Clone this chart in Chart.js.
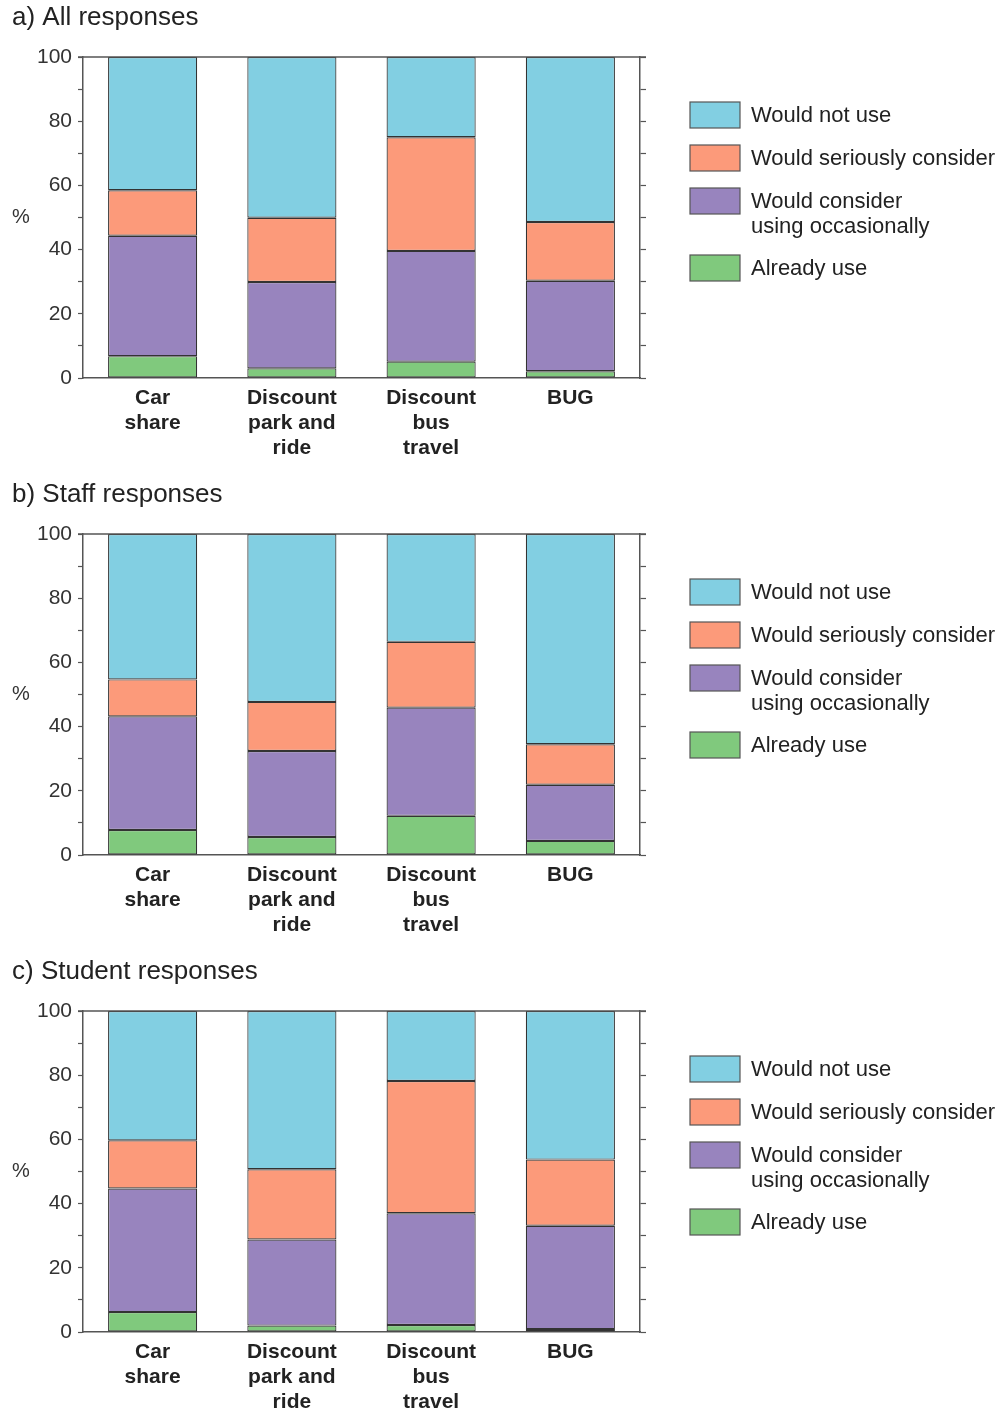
<!DOCTYPE html>
<html>
<head>
<meta charset="utf-8">
<script src="https://cdn.jsdelivr.net/npm/chart.js@4.4.1/dist/chart.umd.min.js"></script>
<style>
  html, body { margin: 0; padding: 0; background: #fff; overflow: hidden; }
  .panel { display: block; }
</style>
</head>
<body>
<canvas id="chartA" class="panel" width="1000" height="477"></canvas>
<canvas id="chartB" class="panel" width="1000" height="477"></canvas>
<canvas id="chartC" class="panel" width="1000" height="477"></canvas>
<script>
const categories = [['Car', 'share'], ['Discount', 'park and', 'ride'], ['Discount', 'bus', 'travel'], ['BUG']];
const panelTitles = ['a) All responses', 'b) Staff responses', 'c) Student responses'];
const seriesNames = ['Already use', 'Would consider using occasionally', 'Would seriously consider', 'Would not use'];
const legendLines = [['Already use'], ['Would consider', 'using occasionally'], ['Would seriously consider'], ['Would not use']];
const seriesColors = ['#80c97d', '#9884be', '#fc9a7a', '#82cfe2'];
const yTicks = [0, 20, 40, 60, 80, 100];

// a) all responses, % per category (bottom to top)
const allAlready = [6.8, 3.0, 5.1, 2.1];
const allOccasional = [37.5, 26.9, 34.5, 28.2];
const allSerious = [14.2, 20.0, 35.4, 18.3];
const allNotUse = [41.5, 50.1, 25.0, 51.4];

// b) staff
const staffAlready = [7.8, 5.6, 12.2, 4.4];
const staffOccasional = [35.4, 26.8, 33.7, 17.5];
const staffSerious = [11.5, 15.3, 20.5, 12.6];
const staffNotUse = [45.3, 52.3, 33.6, 65.5];

// c) students
const studentAlready = [6.2, 2.0, 2.2, 0.9];
const studentOccasional = [38.5, 26.8, 34.8, 32.2];
const studentSerious = [15.0, 21.9, 41.2, 20.6];
const studentNotUse = [40.3, 49.3, 21.8, 46.3];

Chart.defaults.font.family = 'Arial, "Liberation Sans", sans-serif';
Chart.defaults.color = '#333';

const axisColor = '#555';

// title, "%" label, top frame line and the legend box
const decorations = {
    id: 'decorations',
    afterDraw(chart, args, opts) {
        const ctx = chart.ctx;
        const area = chart.chartArea;
        ctx.save();

        ctx.fillStyle = '#222';
        ctx.textAlign = 'left';
        ctx.textBaseline = 'middle';
        ctx.font = '26px Arial, "Liberation Sans", sans-serif';
        ctx.fillText(opts.title, 12, 18);

        ctx.font = '20px Arial, "Liberation Sans", sans-serif';
        ctx.fillStyle = '#333';
        ctx.textAlign = 'center';
        ctx.fillText('%', 21, (area.top + area.bottom) / 2);

        ctx.strokeStyle = axisColor;
        ctx.lineWidth = 1.5;
        ctx.beginPath();
        ctx.moveTo(area.left - 5, area.top);
        ctx.lineTo(area.right + 6, area.top);
        ctx.stroke();

        // legend, top of the stack first
        const boxTops = [102, 145, 188, 255];
        const order = [3, 2, 1, 0];
        ctx.font = '22px Arial, "Liberation Sans", sans-serif';
        ctx.textAlign = 'left';
        order.forEach((di, i) => {
            const ds = chart.data.datasets[di];
            const top = boxTops[i];
            ctx.fillStyle = ds.backgroundColor;
            ctx.fillRect(690, top, 50, 26);
            ctx.strokeStyle = '#555';
            ctx.lineWidth = 1.2;
            ctx.strokeRect(690, top, 50, 26);
            ctx.fillStyle = '#222';
            legendLines[di].forEach((line, k) => {
                ctx.fillText(line, 751, top + 14 + k * 25);
            });
        });

        ctx.restore();
    }
};

function makePanel(id, title, already, occasional, serious, notUse) {
    const values = [already, occasional, serious, notUse];
    return new Chart(document.getElementById(id), {
        type: 'bar',
        data: {
            labels: categories,
            datasets: values.map((v, i) => ({
                label: seriesNames[i],
                data: v,
                backgroundColor: seriesColors[i],
                borderColor: '#333',
                borderWidth: 1.2,
                borderSkipped: false,
                categoryPercentage: 1,
                barPercentage: 0.64
            }))
        },
        options: {
            responsive: false,
            animation: false,
            layout: { padding: { top: 57, right: 354, left: 0, bottom: 0 } },
            plugins: {
                legend: { display: false },
                tooltip: { enabled: false },
                decorations: { title: title }
            },
            scales: {
                x: {
                    stacked: true,
                    grid: { display: false },
                    border: { color: axisColor, width: 1.5 },
                    ticks: {
                        color: '#222',
                        padding: 0,
                        font: { size: 21, weight: 'bold', lineHeight: 1.19 },
                        maxRotation: 0
                    },
                    afterFit(scale) { scale.height = 99; }
                },
                y: {
                    stacked: true,
                    min: 0,
                    max: 100,
                    grid: { drawOnChartArea: false, tickLength: 5, color: axisColor, tickWidth: 1.2 },
                    border: { color: axisColor, width: 1.5 },
                    ticks: {
                        stepSize: 10,
                        padding: 6,
                        font: { size: 21 },
                        callback: v => yTicks.includes(v) ? v : ''
                    },
                    afterFit(scale) { scale.width = 83; }
                },
                y2: {
                    position: 'right',
                    min: 0,
                    max: 100,
                    grid: { drawOnChartArea: false, tickLength: 6, color: axisColor, tickWidth: 1.2 },
                    border: { color: axisColor, width: 1.5 },
                    ticks: { stepSize: 10, display: false },
                    afterFit(scale) { scale.width = 6; }
                }
            }
        },
        plugins: [decorations]
    });
}

makePanel('chartA', panelTitles[0], allAlready, allOccasional, allSerious, allNotUse);
makePanel('chartB', panelTitles[1], staffAlready, staffOccasional, staffSerious, staffNotUse);
makePanel('chartC', panelTitles[2], studentAlready, studentOccasional, studentSerious, studentNotUse);
</script>
</body>
</html>
